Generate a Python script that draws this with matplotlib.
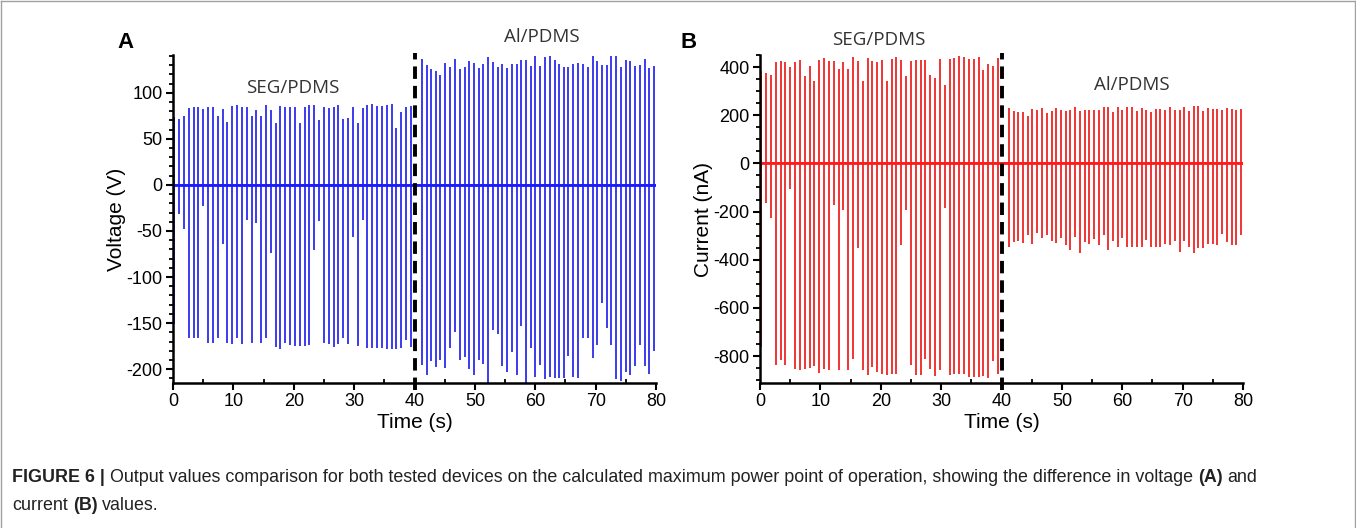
import numpy as np
import matplotlib
matplotlib.use("Agg")
import matplotlib.pyplot as plt
from matplotlib.lines import Line2D
from matplotlib.transforms import IdentityTransform
from matplotlib.ticker import MultipleLocator

plt.rcParams['font.family'] = ['Liberation Sans', 'DejaVu Sans']
plt.rcParams['axes.unicode_minus'] = False

# pulse times (s) for the two devices
seg_times = [0.2, 1.0, 1.8, 2.6, 3.4, 4.2, 5.0, 5.8, 6.6, 7.4, 8.2, 9.0, 9.8, 10.6, 11.4, 12.2, 13.0,
             13.8, 14.6, 15.4, 16.2, 17.0, 17.8, 18.6, 19.4, 20.2, 21.0, 21.8, 22.6, 23.4, 24.2, 25.0,
             25.8, 26.6, 27.4, 28.2, 29.0, 29.8, 30.6, 31.4, 32.2, 33.0, 33.8, 34.6, 35.4, 36.2, 37.0,
             37.8, 38.6, 39.4]
al_times = [41.2, 42.0, 42.8, 43.6, 44.3, 45.1, 45.9, 46.7, 47.5, 48.3, 49.1, 49.8, 50.6, 51.4, 52.2,
            53.0, 53.8, 54.5, 55.3, 56.1, 56.9, 57.7, 58.5, 59.3, 60.0, 60.8, 61.6, 62.4, 63.2, 64.0,
            64.8, 65.5, 66.3, 67.1, 67.9, 68.7, 69.5, 70.2, 71.0, 71.8, 72.6, 73.4, 74.2, 75.0, 75.7,
            76.5, 77.3, 78.1, 78.9, 79.7]
rec_start, rec_end = 0, 80
divider_time = 40

# voltage peaks (V)
volt_seg_pos = [73, 71, 74, 82, 84, 83, 81, 84, 84, 74, 81, 67, 85, 86, 83, 83, 74, 80, 74, 86,
                80, 66, 85, 84, 84, 84, 66, 84, 86, 86, 69, 84, 82, 83, 86, 71, 72, 84, 66, 82,
                86, 87, 85, 85, 86, 87, 61, 78, 83, 85]
volt_seg_neg = [-150, -30, -47, -165, -165, -165, -22, -170, -170, -165, -63, -170, -172, -165, -172,
                -37, -170, -40, -170, -165, -73, -175, -177, -170, -173, -174, -174, -174, -173, -70,
                -38, -170, -172, -175, -172, -165, -172, -55, -174, -37, -176, -176, -176, -176, -177,
                -177, -177, -176, -167, -175]
volt_al_pos = [136, 129, 125, 123, 118, 131, 127, 136, 125, 127, 133, 131, 126, 130, 138, 132, 127,
               130, 126, 130, 130, 135, 134, 128, 139, 128, 138, 139, 135, 130, 127, 127, 130, 131,
               130, 127, 139, 133, 129, 129, 139, 139, 127, 135, 133, 128, 129, 136, 126, 128]
volt_al_neg = [-194, -205, -190, -196, -189, -198, -176, -159, -189, -186, -199, -205, -189, -193,
               -216, -156, -161, -195, -202, -180, -205, -152, -216, -176, -207, -194, -210, -207,
               -208, -208, -208, -185, -207, -208, -165, -165, -187, -173, -127, -154, -173, -210,
               -212, -202, -205, -195, -173, -195, -204, -179]

# current peaks (nA)
cur_seg_pos = [380, 371, 362, 415, 422, 415, 397, 415, 426, 357, 401, 339, 426, 432, 422, 422, 387,
               418, 387, 436, 422, 339, 432, 422, 415, 426, 339, 429, 436, 426, 357, 422, 426, 426,
               426, 362, 349, 429, 321, 429, 432, 443, 436, 429, 429, 436, 385, 408, 401, 432]
cur_seg_neg = [-758, -161, -224, -834, -814, -834, -104, -848, -855, -848, -846, -837, -865, -848,
               -855, -168, -855, -189, -855, -807, -349, -855, -876, -842, -862, -869, -873, -869,
               -869, -335, -189, -834, -873, -873, -807, -848, -879, -855, -182, -876, -869, -869,
               -869, -883, -883, -883, -879, -887, -818, -869]
cur_al_pos = [224, 214, 210, 210, 193, 221, 218, 224, 204, 214, 224, 218, 214, 218, 228, 214, 218,
              218, 218, 218, 228, 228, 210, 228, 218, 228, 232, 214, 224, 218, 210, 221, 221, 218,
              232, 218, 218, 228, 214, 235, 235, 214, 224, 221, 221, 218, 224, 221, 218, 221]
cur_al_neg = [-342, -321, -318, -328, -293, -332, -286, -304, -293, -318, -328, -304, -335, -355,
              -300, -369, -321, -332, -310, -335, -293, -355, -318, -342, -307, -342, -342, -342,
              -342, -314, -342, -342, -342, -332, -335, -318, -362, -318, -342, -369, -349, -349,
              -332, -332, -335, -290, -321, -335, -335, -293]


def pulse_trace(times, pos, neg):
    # every pulse: baseline -> positive peak -> negative peak -> baseline
    t = np.repeat(np.asarray(times, float), 4)
    z = np.zeros(len(pos))
    v = np.column_stack([z, pos, neg, z]).ravel()
    t = np.concatenate([[rec_start], t, [rec_end]])
    v = np.concatenate([[0], v, [0]])
    return t, v


fig = plt.figure(figsize=(13.56, 5.28), dpi=100)
axA = fig.add_axes([0.1276, 0.2746, 0.3562, 0.6212])
axB = fig.add_axes([0.5605, 0.2746, 0.3562, 0.6212])

tA, vA = pulse_trace(seg_times + al_times, volt_seg_pos + volt_al_pos, volt_seg_neg + volt_al_neg)
axA.plot(tA, vA, color='#4040ee', lw=1.3)
axA.plot([rec_start, rec_end], [0, 0], color='#1a1aff', lw=2.0)
tB, vB = pulse_trace(seg_times + al_times, cur_seg_pos + cur_al_pos, cur_seg_neg + cur_al_neg)
axB.plot(tB, vB, color='#f03a3a', lw=1.3)
axB.plot([rec_start, rec_end], [0, 0], color='#ff1a1a', lw=2.0)

axA.set_ylim(-215, 141)
axB.set_ylim(-912, 450)
axA.yaxis.set_major_locator(MultipleLocator(50))
axA.yaxis.set_minor_locator(MultipleLocator(10))
axB.yaxis.set_major_locator(MultipleLocator(200))
axB.yaxis.set_minor_locator(MultipleLocator(50))

for ax in (axA, axB):
    ax.axvline(divider_time, ymin=-0.02, ymax=1.005, color='black', lw=2.8,
               linestyle=(0, (3.2, 1.8)), clip_on=False, zorder=5)
    ax.set_xlim(rec_start, rec_end)
    ax.xaxis.set_major_locator(MultipleLocator(10))
    ax.xaxis.set_minor_locator(MultipleLocator(5))
    for s in ('top', 'right'):
        ax.spines[s].set_visible(False)
    for s in ('left', 'bottom'):
        ax.spines[s].set_linewidth(1.8)
    ax.tick_params(axis='both', which='major', direction='out', length=5, width=1.5,
                   labelsize=13, pad=2.5)
    ax.tick_params(axis='both', which='minor', direction='out', length=3, width=1.3)
    ax.tick_params(axis='x', which='minor', direction='in')
    ax.set_xlabel('Time (s)', fontsize=15, labelpad=2)

axA.set_ylabel('Voltage (V)', fontsize=15, labelpad=0)
axB.set_ylabel('Current (nA)', fontsize=15, labelpad=0)

fig.text(125 / 1356, 1 - 43 / 528, 'A', fontsize=16, fontweight='bold', ha='center', va='center')
fig.text(689 / 1356, 1 - 43 / 528, 'B', fontsize=16, fontweight='bold', ha='center', va='center')

note = dict(fontsize=13.5, color='#333333', ha='center', va='center', family=['Open Sans', 'DejaVu Sans'])
fig.text(293 / 1356, 1 - 88 / 528, 'SEG/PDMS', **note)
fig.text(542 / 1356, 1 - 37 / 528, 'Al/PDMS', **note)
fig.text(879 / 1356, 1 - 40 / 528, 'SEG/PDMS', **note)
fig.text(1132 / 1356, 1 - 85 / 528, 'Al/PDMS', **note)

# thin frame around the figure
frame = dict(color='#a0a0a0', lw=1.0, transform=fig.transFigure)
fig.lines.append(Line2D([0.0004, 0.0004], [0, 0.999], **frame))
fig.lines.append(Line2D([0.0004, 0.9996], [0.999, 0.999], **frame))
fig.lines.append(Line2D([0.9996, 0.9996], [0, 0.999], **frame))

# caption with bold pieces; each piece is (text, weight, gap before it in px)
renderer = fig.canvas.get_renderer()


def rich_line(x, y, parts, size=12.9):
    for s, w, gap in parts:
        x += gap
        t = fig.text(x, y, s, fontsize=size, fontweight=w, color='#222222', va='center',
                     transform=IdentityTransform())
        x = t.get_window_extent(renderer).x1


rich_line(12, 528 - 478, [('FIGURE 6 |', 'bold', 0),
                          ('Output values comparison for both tested devices on the calculated maximum '
                           'power point of operation, showing the difference in voltage', 'normal', 5),
                          ('(A)', 'bold', 5), ('and', 'normal', 5)])
rich_line(12, 528 - 505, [('current', 'normal', 0), ('(B)', 'bold', 5), ('values.', 'normal', 5)])

fig.savefig('out.png', dpi=100)
